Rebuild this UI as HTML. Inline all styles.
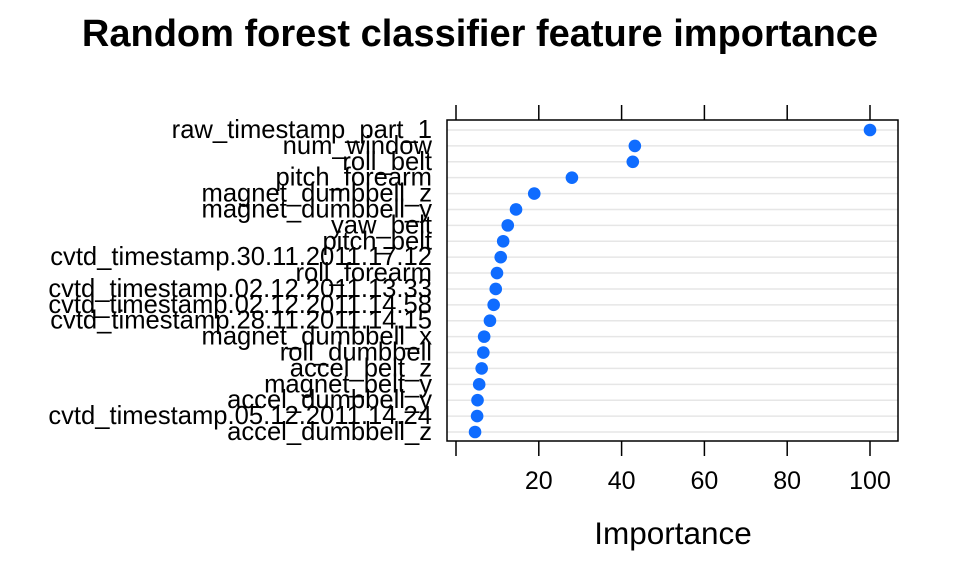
<!DOCTYPE html>
<html><head><meta charset="utf-8"><style>
body{margin:0;background:#fff;}
svg{display:block;font-family:"Liberation Sans",Arial,sans-serif;}
</style></head><body>
<svg id="chart" width="960" height="576" viewBox="0 0 960 576">
<text x="480" y="46" text-anchor="middle" font-size="38" font-weight="bold">Random forest classifier feature importance</text>
<g id="plot"></g>
<text x="673" y="544" text-anchor="middle" font-size="31.5">Importance</text>
</svg>
<script>
const features=["raw_timestamp_part_1","num_window","roll_belt","pitch_forearm","magnet_dumbbell_z","magnet_dumbbell_y","yaw_belt","pitch_belt","cvtd_timestamp.30.11.2011.17.12","roll_forearm","cvtd_timestamp.02.12.2011.13.33","cvtd_timestamp.02.12.2011.14.58","cvtd_timestamp.28.11.2011.14.15","magnet_dumbbell_x","roll_dumbbell","accel_belt_z","magnet_belt_y","accel_dumbbell_y","cvtd_timestamp.05.12.2011.14.24","accel_dumbbell_z"];
const importance=[100,43.2,42.7,28,18.9,14.5,12.5,11.4,10.8,9.9,9.6,9.1,8.2,6.8,6.6,6.2,5.6,5.2,5.1,4.6];
const ticks=[0,20,40,60,80,100];
const tickLabels=["","20","40","60","80","100"];
const NS="http://www.w3.org/2000/svg";
const g=document.getElementById('plot');
const L=447,R=898,T=120,B=441;
const xs=v=>456+v*4.14;
const ys=i=>130+i*(432-130)/(features.length-1);
function el(t,a){const e=document.createElementNS(NS,t);for(const k in a)e.setAttribute(k,a[k]);g.appendChild(e);return e;}
features.forEach((f,i)=>{
 const ln=el('line',{x1:L,x2:R,y1:ys(i),y2:ys(i),stroke:'#e6e6e6','stroke-width':1.5});
 
 
 const t=el('text',{x:432,y:ys(i)+8,'text-anchor':'end','font-size':25.6});
 t.textContent=f;
 
 
});
const fr=el('rect',{x:L,y:T,width:R-L,height:B-T,fill:'none',stroke:'#000','stroke-width':1.5});


ticks.forEach((v,i)=>{
 const a=el('line',{x1:xs(v),x2:xs(v),y1:T-15,y2:T,stroke:'#000','stroke-width':1.5});
 
 
 const b=el('line',{x1:xs(v),x2:xs(v),y1:B,y2:B+15,stroke:'#000','stroke-width':1.5});
 
 
 const t=el('text',{x:xs(v),y:489,'text-anchor':'middle','font-size':25});
 t.textContent=tickLabels[i];
 
 
});
importance.forEach((v,i)=>{
 const c=el('circle',{cx:xs(v),cy:ys(i),r:6.3,fill:'#0f6cff'});
 
 
});
</script>
</body></html>
